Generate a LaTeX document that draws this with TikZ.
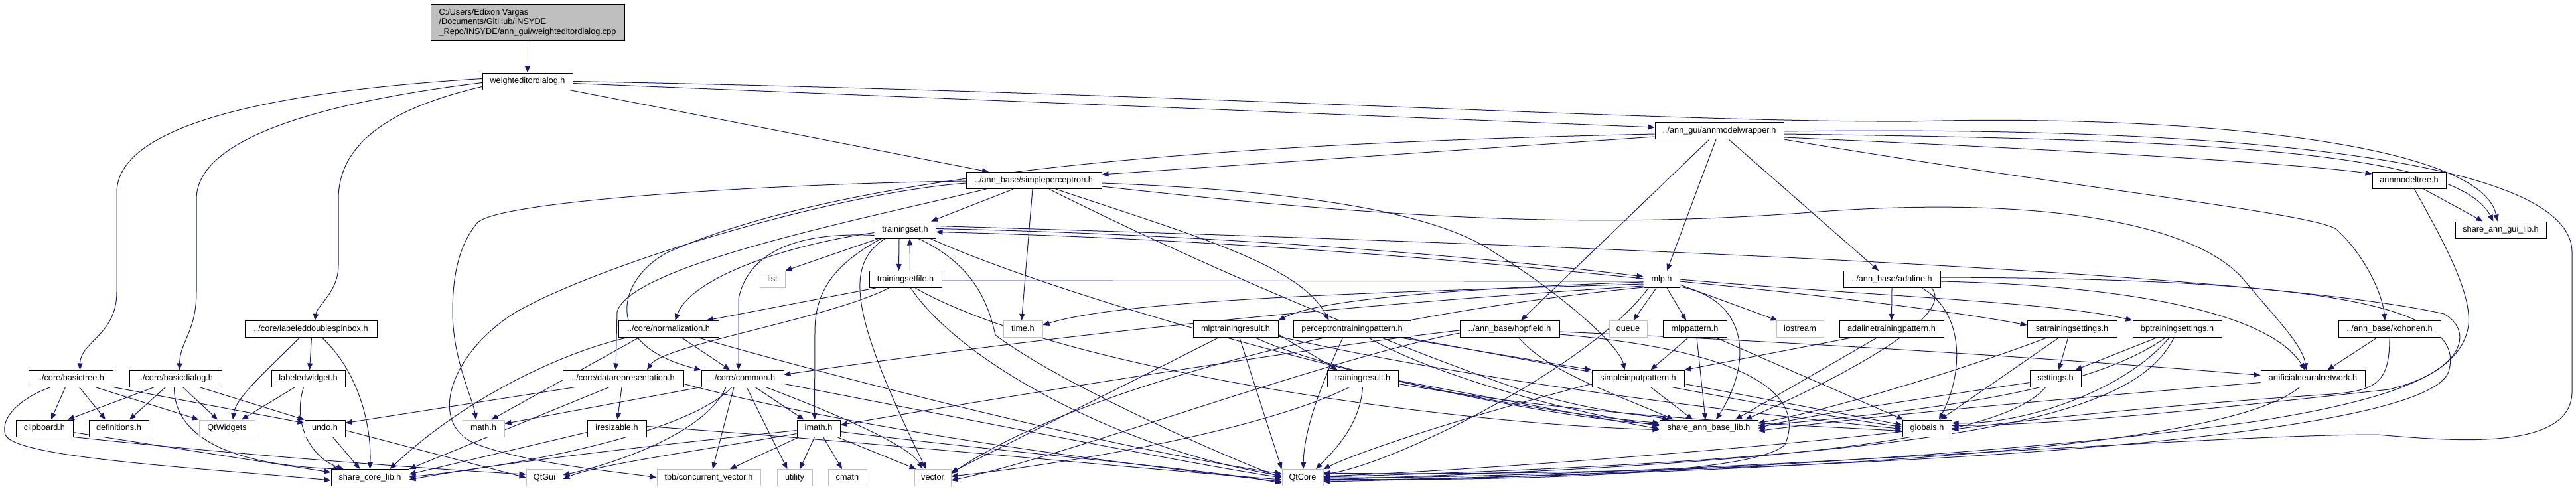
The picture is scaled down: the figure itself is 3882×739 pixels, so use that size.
\documentclass[tikz,border=0pt]{standalone}
\usepackage{fontspec}
\setmainfont{Liberation Sans}
\usetikzlibrary{arrows.meta}
\definecolor{edgeblue}{HTML}{191970}
\definecolor{sysgray}{HTML}{BFBFBF}
\pgfdeclarelayer{bg}
\pgfsetlayers{bg,main}
\begin{document}
\begin{tikzpicture}[x=1pt,y=-1pt, font=\fontsize{12.7}{14.5}\selectfont,
  box/.style={draw=black, line width=1pt, fill=white, inner sep=0pt, minimum height=25pt, text height=9.3pt, text depth=2.7pt},
  sys/.style={box, draw=sysgray},
  rootbox/.style={draw=black, line width=1pt, fill=sysgray, inner sep=0pt, minimum width=292pt, minimum height=55pt, align=left},
  dep/.style={draw=edgeblue, line width=1pt, -{Triangle[length=10pt,width=8pt]}},
  plain/.style={draw=edgeblue, line width=1pt}]
\useasboundingbox (0,0) rectangle (3882,739);

% nodes
\node[rootbox] (root) at (795,33.5) {C:/Users/Edixon Vargas\\/Documents/GitHub/INSYDE\\\_Repo/INSYDE/ann\_gui/weighteditordialog.cpp};
\node[box, minimum width=136] (wed) at (795,122.5) {weighteditordialog.h};
\node[box, minimum width=194] (amw) at (2591,197) {../ann\_gui/annmodelwrapper.h};
\node[box, minimum width=204] (sp) at (1558,272) {../ann\_base/simpleperceptron.h};
\node[box, minimum width=111] (amt) at (3630.5,272) {annmodeltree.h};
\node[box, minimum width=92] (ts) at (1364,346.5) {trainingset.h};
\node[box, minimum width=137] (sagl) at (3768.5,346.5) {share\_ann\_gui\_lib.h};
\node[sys, minimum width=38] (list) at (1164,421) {list};
\node[box, minimum width=109] (tsf) at (1364.5,421) {trainingsetfile.h};
\node[box, minimum width=54] (mlp) at (2504,421) {mlp.h};
\node[box, minimum width=146] (ada) at (2851,421) {../ann\_base/adaline.h};
\node[box, minimum width=199] (ldsb) at (468.5,496) {../core/labeleddoublespinbox.h};
\node[box, minimum width=151] (norm) at (1007.5,496) {../core/normalization.h};
\node[sys, minimum width=59] (time) at (1541.5,496) {time.h};
\node[box, minimum width=128] (mtr) at (1862,496) {mlptrainingresult.h};
\node[box, minimum width=177] (ptp) at (2037.5,496) {perceptrontrainingpattern.h};
\node[box, minimum width=150] (hop) at (2275,496) {../ann\_base/hopfield.h};
\node[sys, minimum width=57] (queue) at (2453.5,496) {queue};
\node[box, minimum width=96] (mlpp) at (2554,496) {mlppattern.h};
\node[sys, minimum width=71] (iostream) at (2712.5,496) {iostream};
\node[box, minimum width=157] (atp) at (2850.5,496) {adalinetrainingpattern.h};
\node[box, minimum width=135] (sats) at (3122.5,496) {satrainingsettings.h};
\node[box, minimum width=134] (bpts) at (3281,496) {bptrainingsettings.h};
\node[box, minimum width=154] (koh) at (3601,496) {../ann\_base/kohonen.h};
\node[box, minimum width=127] (bt) at (106.5,570.5) {../core/basictree.h};
\node[box, minimum width=139] (bd) at (264.5,570.5) {../core/basicdialog.h};
\node[box, minimum width=111] (lw) at (464.5,570.5) {labeledwidget.h};
\node[box, minimum width=182] (dr) at (939,570.5) {../core/datarepresentation.h};
\node[box, minimum width=124] (common) at (1119,570.5) {../core/common.h};
\node[box, minimum width=107] (tr) at (2053.5,570.5) {trainingresult.h};
\node[box, minimum width=139] (sip) at (2468.5,570.5) {simpleinputpattern.h};
\node[box, minimum width=77] (set) at (3097.5,570.5) {settings.h};
\node[box, minimum width=157] (ann) at (3485.5,570.5) {artificialneuralnetwork.h};
\node[box, minimum width=86] (clip) at (67,645.5) {clipboard.h};
\node[box, minimum width=90] (def) at (179,645.5) {definitions.h};
\node[sys, minimum width=84] (qtw) at (342,645.5) {QtWidgets};
\node[box, minimum width=61] (undo) at (489.5,645.5) {undo.h};
\node[sys, minimum width=63] (math) at (728.5,645.5) {math.h};
\node[box, minimum width=89] (ires) at (929.5,645.5) {iresizable.h};
\node[box, minimum width=65] (imath) at (1233.5,645.5) {imath.h};
\node[box, minimum width=148] (sabl) at (2575,645.5) {share\_ann\_base\_lib.h};
\node[box, minimum width=74] (glob) at (2904,645.5) {globals.h};
\node[box, minimum width=117] (scl) at (557.5,720) {share\_core\_lib.h};
\node[sys, minimum width=55] (qtgui) at (820.5,720) {QtGui};
\node[sys, minimum width=156] (tbb) at (1068,720) {tbb/concurrent\_vector.h};
\node[sys, minimum width=53] (utility) at (1197.5,720) {utility};
\node[sys, minimum width=58] (cmath) at (1277,720) {cmath};
\node[sys, minimum width=55] (vector) at (1405.5,720) {vector};
\node[sys, minimum width=62] (qtcore) at (1963,720) {QtCore};

\begin{pgfonlayer}{bg}
\fill[white] (0,0) rectangle (3882,739);
\draw[dep] (root) -- (wed);
% weighteditordialog.h
\draw[dep] ([yshift=4]wed.west) .. controls (450,135) and (176,180) .. (176,290) -- (176,440) .. controls (176,505) and (121,515) .. ([xshift=14]bt.north);
\draw[dep] ([yshift=-2]wed.west) .. controls (520,150) and (296,200) .. (296,300) -- (296,440) .. controls (296,500) and (271,515) .. ([xshift=6]bd.north);
\draw[dep] ([yshift=-8]wed.west) .. controls (600,160) and (510,210) .. (510,300) -- (510,400) .. controls (510,440) and (478,460) .. ([xshift=6]ldsb.north);
\draw[dep] ([xshift=63]wed.south) -- ([xshift=-68]sp.north);
\draw[dep] ([yshift=-3]wed.east) -- ([yshift=5]amw.west);
\draw[dep] (wed.east) .. controls (1800,140) and (2500,185) .. (2880,183) .. controls (3300,172) and (3740,215) .. ([xshift=-5]sagl.north);
% annmodelwrapper
\draw[dep] ([yshift=-9]amw.west) -- ([yshift=9]sp.east);
\draw[dep] ([yshift=-5]amw.west) .. controls (1900,215) and (1300,250) .. (1007,380) .. controls (930,420) and (905,520) .. (common.north west);
\draw[dep] ([xshift=-5]amw.south) -- ([xshift=8]mlp.north);
\draw[dep] ([xshift=-15]amw.south) -- ([xshift=17]hop.north);
\draw[dep] ([xshift=14]amw.south) -- ([xshift=-20]ada.north);
\draw[dep] (amw.south east) .. controls (3100,280) and (3480,320) .. (3520,345) .. controls (3560,380) and (3590,440) .. ([xshift=-7]koh.north);
\draw[dep] ([yshift=-10]amw.east) .. controls (3100,225) and (3450,245) .. ([yshift=10]amt.west);
\draw[dep] ([yshift=-5]amw.east) .. controls (3300,210) and (3700,225) .. ([xshift=-11]sagl.north);
\draw[dep] ([yshift=-1]amw.east) .. controls (3300,190) and (3876,230) .. (3876,380) -- (3876,590) .. controls (3876,680) and (3700,665) .. (3582,655) .. controls (3300,655) and (2500,722) .. (qtcore.east);
% annmodeltree
\draw[dep] ([xshift=22]amt.south) -- ([xshift=-27]sagl.north);
\draw[dep] ([xshift=8]amt.south) .. controls (3680,360) and (3725,440) .. (3720,490) .. controls (3710,560) and (3620,600) .. (3400,635) .. controls (3000,690) and (2400,720) .. ([yshift=-4]qtcore.east);
% simpleperceptron
\draw[dep] ([xshift=-31]sp.south) -- ([xshift=39]ts.north);
\draw[dep] ([yshift=-1]sp.west) .. controls (1200,276) and (760,300) .. (720,335) .. controls (690,370) and (682,420) .. (682,470) .. controls (682,540) and (712,600) .. ([xshift=-11]math.north);
\draw[dep] ([yshift=-4]sp.west) .. controls (1250,292) and (900,400) .. (778,470) .. controls (680,530) and (640,640) .. (720,670) .. controls (800,700) and (940,712) .. (tbb.west);
\draw[dep] ([xshift=-72]sp.south) .. controls (1300,330) and (950,400) .. (930,470) -- ([xshift=-11]dr.north);
\draw[dep] ([xshift=-2]sp.south) -- ([xshift=-2]time.north);
\draw[dep] ([xshift=33]sp.south) .. controls (1800,355) and (1960,400) .. ([xshift=-35]ptp.north);
\draw[dep] ([xshift=23]sp.south) .. controls (1850,420) and (2150,540) .. (2300,590) .. controls (2420,625) and (2480,625) .. ([xshift=-60]sabl.north);
\draw[dep] ([yshift=-4]sp.east) .. controls (1900,285) and (2150,310) .. (2251,380) .. controls (2350,440) and (2440,520) .. ([xshift=-20]sip.north);
\draw[dep] ([yshift=-9]sp.east) .. controls (2100,330) and (2400,345) .. (2729,320) .. controls (3050,295) and (3300,330) .. (3380,420) .. controls (3430,480) and (3470,520) .. ([xshift=-10]ann.north);
% trainingset
\draw[dep] ([xshift=-40]ts.south) -- (list.north east);
\draw[dep] ([xshift=-9]ts.south) -- ([xshift=-10]tsf.north);
\draw[dep] ([xshift=7]tsf.north) -- ([xshift=7]ts.south);
\draw[dep] ([yshift=-4]ts.west) .. controls (1180,370) and (1040,420) .. ([xshift=10]norm.north);
\draw[dep] ([yshift=-8]ts.west) .. controls (1220,350) and (1130,370) .. (1113,450) -- ([xshift=-6]common.north);
\draw[dep] ([xshift=-36]ts.south) .. controls (1255,400) and (1228,440) .. (1228,500) -- ([xshift=-6]imath.north);
\draw[dep] ([xshift=-30]ts.south) .. controls (1270,400) and (1285,480) .. ([xshift=-10]vector.north);
\draw[dep] ([xshift=20]ts.south) .. controls (1470,400) and (1490,460) .. (1500,505) .. controls (1600,580) and (1850,690) .. (qtcore.west);
\draw[dep] ([yshift=2]ts.east) .. controls (1900,355) and (2300,395) .. ([yshift=4]mlp.west);
\draw[dep] ([yshift=1]mlp.west) .. controls (2300,402) and (1900,362) .. ([yshift=-3]ts.east);
\draw[dep] ([yshift=6]ts.east) .. controls (2400,370) and (3400,410) .. (3683,473) .. controls (3730,500) and (3710,560) .. (3600,587) .. controls (3300,620) and (3100,640) .. ([yshift=4]glob.east);
\draw[dep] ([xshift=38]ts.south) .. controls (1600,450) and (2200,620) .. ([yshift=6]sabl.west);
% trainingsetfile
\draw[dep] ([xshift=-45]tsf.south) -- ([xshift=57]norm.north);
\draw[dep] ([xshift=-25]tsf.south) .. controls (1250,480) and (1000,520) .. ([xshift=36]dr.north);
\draw[dep] ([xshift=8]tsf.south) .. controls (1450,550) and (1700,680) .. ([yshift=3]qtcore.west);
\draw[dep] ([xshift=15]tsf.south) .. controls (1600,560) and (2200,640) .. ([yshift=-2]sabl.west);
\draw[plain] ([yshift=-2]tsf.east) -- ([yshift=-3]mlp.west);
% normalization
\draw[dep] ([xshift=20]norm.south) -- ([xshift=-19]common.north);
\draw[dep] ([xshift=-45]norm.south) -- ([xshift=12]math.north);
\draw[dep] ([xshift=-63]norm.south) .. controls (850,530) and (700,600) .. ([xshift=30]scl.north);
\draw[dep] ([xshift=45]norm.south) .. controls (1300,580) and (1700,680) .. ([yshift=6]qtcore.west);
% datarepresentation
\draw[dep] ([xshift=-72]dr.south) -- ([yshift=8]undo.east);
\draw[dep] ([xshift=-21]dr.south) -- (scl.north east);
\draw[dep] ([xshift=-2]dr.south) -- ([xshift=1]ires.north);
\draw[dep] ([yshift=-8]dr.east) .. controls (1300,650) and (1700,700) .. ([yshift=-6]qtcore.west);
% iresizable
\draw[dep] ([yshift=-6]ires.west) -- ([yshift=5]scl.east);
\draw[dep] ([yshift=3]ires.east) .. controls (1300,665) and (1700,705) .. ([yshift=-3]qtcore.west);
% common
\draw[dep] (common.south west) -- ([yshift=7]math.east);
\draw[dep] ([xshift=-16]common.south) .. controls (1040,650) and (800,700) .. ([yshift=1]scl.east);
\draw[dep] ([xshift=-25]common.south) .. controls (1060,660) and (900,705) .. ([yshift=4]qtgui.east);
\draw[dep] ([xshift=-13]common.south) -- ([xshift=6]tbb.north);
\draw[dep] ([xshift=6]common.south) -- ([xshift=-11]utility.north);
\draw[dep] ([xshift=19]common.south) -- ([xshift=-22]imath.north);
\draw[dep] ([xshift=35]common.south) .. controls (1250,620) and (1370,670) .. ([xshift=-15]vector.north);
\draw[dep] ([yshift=-8]common.east) .. controls (1500,640) and (1800,700) .. (qtcore.west);
% imath
\draw[dep] ([xshift=-29]imath.south) -- ([xshift=32]tbb.north);
\draw[dep] ([xshift=-6]imath.south) -- ([xshift=8]utility.north);
\draw[dep] ([xshift=7]imath.south) -- ([xshift=-8]cmath.north);
\draw[dep] ([xshift=28]imath.south) -- ([xshift=-25]vector.north);
\draw[dep] ([yshift=-3]imath.west) .. controls (1050,665) and (800,690) .. ([yshift=-3]scl.east);
\draw[dep] ([yshift=-8]imath.west) .. controls (1050,680) and (900,700) .. ([yshift=-2]qtgui.east);
\draw[dep] ([yshift=-5]imath.east) .. controls (1500,680) and (1800,705) .. ([yshift=-8]qtcore.west);
% mlp
\draw[dep] ([xshift=-8]mlp.south) -- ([xshift=8]queue.north);
\draw[dep] ([xshift=8]mlp.south) -- ([xshift=-13]mlpp.north);
\draw[dep] ([yshift=-8]mlp.east) -- ([xshift=2]iostream.north west);
\draw[dep] ([yshift=-11]mlp.east) .. controls (2630,450) and (2645,540) .. ([xshift=11]sabl.north);
\draw[dep] ([yshift=-3]mlp.east) .. controls (2750,445) and (2950,470) .. ([yshift=6]sats.west);
\draw[dep] (mlp.east) .. controls (2800,445) and (3100,455) .. (bpts.north west);
\draw[dep] ([yshift=-4]mlp.west) .. controls (2200,435) and (1990,450) .. (mtr.north east);
\draw[dep] ([yshift=-7]mlp.west) .. controls (2100,440) and (1700,450) .. ([yshift=6]time.east);
\draw[dep] ([yshift=-10]mlp.west) .. controls (2100,455) and (1700,490) .. ([yshift=6]common.east);
\draw[dep] ([xshift=-20]mlp.south) .. controls (2400,550) and (2100,700) .. ([yshift=5]qtcore.east);
\draw[dep] ([yshift=-12]mlp.west) .. controls (2000,480) and (1600,600) .. ([yshift=6]vector.east);
% hopfield
\draw[dep] ([xshift=14]hop.south) .. controls (2330,560) and (2450,600) .. ([xshift=-53]sabl.north);
\draw[dep] ([yshift=-4]hop.east) .. controls (2700,515) and (3100,540) .. ([yshift=5]ann.west);
\draw[dep] ([yshift=-8]hop.east) .. controls (2650,530) and (2720,600) .. (2690,670) .. controls (2640,720) and (2200,725) .. ([yshift=-2]qtcore.east);
\draw[dep] ([yshift=-6]hop.west) .. controls (2000,540) and (1600,690) .. ([yshift=-4]vector.east);
\draw[dep] ([yshift=-2]hop.west) .. controls (2000,520) and (1500,600) .. ([yshift=5]imath.east);
% simpleinputpattern
\draw[dep] ([xshift=19]sip.south) -- ([xshift=-24]sabl.north);
\draw[dep] ([yshift=-8]sip.west) .. controls (2200,630) and (2050,680) .. (qtcore.north east);
\draw[dep] ([yshift=-8]sip.east) -- ([yshift=5]glob.west);
% perceptrontrainingpattern
\draw[dep] ([xshift=73]ptp.south) -- (sip.north west);
\draw[dep] ([xshift=-14]ptp.south) .. controls (2000,560) and (1965,640) .. ([xshift=1]qtcore.north);
\draw[dep] ([xshift=25]ptp.south) .. controls (2150,560) and (2350,620) .. ([yshift=4]sabl.west);
\draw[dep] ([xshift=82]ptp.south) .. controls (2400,560) and (2700,620) .. ([yshift=2]glob.west);
% mlptrainingresult
\draw[dep] ([yshift=-8]mtr.east) -- ([xshift=-38]tr.north);
\draw[dep] ([xshift=-26]mtr.south) -- ([yshift=8]vector.east);
\draw[dep] ([xshift=6]mtr.south) -- (qtcore.north west);
\draw[dep] ([xshift=30]mtr.south) .. controls (2000,560) and (2300,620) .. ([yshift=8]sabl.west);
\draw[dep] ([yshift=-11]mtr.east) .. controls (2200,570) and (2600,620) .. ([yshift=-1]glob.west);
% trainingresult
\draw[dep] ([xshift=-20]tr.south) .. controls (1900,650) and (1600,700) .. ([yshift=2]vector.east);
\draw[dep] (tr.south) .. controls (2050,640) and (2010,680) .. ([xshift=20]qtcore.north);
\draw[dep] ([yshift=-3]tr.east) -- ([yshift=-1]sabl.west);
\draw[dep] ([yshift=-8]tr.east) .. controls (2400,630) and (2700,640) .. ([yshift=-4]glob.west);
% mlppattern
\draw[dep] ([xshift=-10]mlpp.south) -- ([xshift=19]sip.north);
\draw[dep] ([xshift=3]mlpp.south) -- ([xshift=-5]sabl.north);
\draw[dep] ([xshift=32]mlpp.south) -- ([xshift=2]glob.north west);
% adalinetrainingpattern
\draw[dep] ([xshift=-60]atp.south) -- (sip.north east);
\draw[dep] ([xshift=-22]atp.south) -- ([xshift=40]sabl.north);
% adaline
\draw[dep] (ada.south) -- (atp.north);
\draw[dep] ([xshift=60]ada.south) .. controls (2950,480) and (2750,580) .. ([xshift=55]sabl.north);
\draw[dep] ([xshift=45]ada.south) .. controls (2960,470) and (2960,560) .. ([xshift=18]glob.north);
\draw[dep] ([yshift=-3]ada.east) .. controls (3200,430) and (3420,470) .. ([xshift=-12]ann.north);
\draw[dep] ([yshift=3]ada.east) .. controls (3500,420) and (3720,460) .. (3690,560) .. controls (3650,680) and (2500,720) .. ([yshift=7]qtcore.east);
% satrainingsettings
\draw[dep] ([xshift=-6]sats.south) -- ([xshift=5]set.north);
\draw[dep] ([xshift=-38]sats.south) .. controls (2950,560) and (2750,620) .. ([yshift=8]sabl.east);
\draw[dep] ([xshift=-20]sats.south) -- ([xshift=20]glob.north);
% bptrainingsettings
\draw[dep] ([xshift=-31]bpts.south) -- ([xshift=30]set.north);
\draw[dep] ([xshift=-18]bpts.south) .. controls (3150,590) and (2900,620) .. ([yshift=4]sabl.east);
\draw[dep] ([xshift=-12]bpts.south) .. controls (3200,590) and (3050,640) .. ([yshift=8]glob.east);
\draw[dep] ([xshift=-5]bpts.south) .. controls (3220,620) and (3000,690) .. ([yshift=1]qtcore.east);
% settings
\draw[dep] ([yshift=-6]set.west) .. controls (2900,600) and (2700,630) .. (sabl.east);
\draw[dep] ([xshift=-15]set.south) .. controls (3020,660) and (2700,700) .. ([yshift=-3]qtcore.east);
% artificialneuralnetwork
\draw[dep] ([yshift=-6]ann.west) .. controls (3000,610) and (2800,630) .. ([yshift=-4]sabl.east);
\draw[dep] ([xshift=-20]ann.south) .. controls (3350,680) and (2700,710) .. ([yshift=-6]qtcore.east);
% kohonen
\draw[dep] ([xshift=-19]koh.south) -- ([xshift=22]ann.north);
\draw[dep] (koh.south) .. controls (3601,580) and (3580,590) .. (3500,595) .. controls (3200,615) and (3000,640) .. ([yshift=-2]glob.east);
% globals
\draw[dep] ([yshift=-5]glob.west) .. controls (2600,680) and (2200,710) .. ([yshift=2]qtcore.east);
% core group
\draw[dep] ([xshift=-30]bt.south) .. controls (30,600) and (0,630) .. (8,655) .. controls (20,690) and (300,705) .. ([yshift=-4]scl.west);
\draw[dep] ([xshift=-8]bt.south) -- ([xshift=10]clip.north);
\draw[dep] ([xshift=13]bt.south) -- ([xshift=-20]def.north);
\draw[dep] ([xshift=37]bt.south) -- (qtw.north west);
\draw[dep] (bt.south east) -- ([yshift=8]undo.west);
\draw[dep] ([xshift=-32]bd.south) -- ([xshift=35]clip.north);
\draw[dep] ([xshift=-15]bd.south) -- ([xshift=16]def.north);
\draw[dep] ([xshift=-2]bd.south) .. controls (262,650) and (330,700) .. ([xshift=-45]scl.north);
\draw[dep] ([xshift=11]bd.south) -- ([xshift=-14]qtw.north);
\draw[dep] ([xshift=36]bd.south) -- (undo.north west);
\draw[dep] ([xshift=-17]ldsb.south) .. controls (400,560) and (355,600) .. ([xshift=9]qtw.north);
\draw[dep] ([xshift=1]ldsb.south) -- ([xshift=2]lw.north);
\draw[dep] ([xshift=17]ldsb.south) .. controls (540,560) and (560,640) .. (scl.north);
\draw[dep] ([xshift=-20]lw.south) -- ([xshift=22]qtw.north);
\draw[dep] ([xshift=-7]lw.south) .. controls (440,640) and (470,690) .. ([xshift=-40]scl.north);
\draw[dep] ([yshift=-6]clip.east) -- ([yshift=8]scl.west);
\draw[dep] (clip.south east) .. controls (400,690) and (700,710) .. ([yshift=5]qtgui.west);
\draw[dep] ([xshift=12]undo.south) -- ([xshift=-15]scl.north);
\draw[dep] ([yshift=-3]undo.east) -- (qtgui.west);
\end{pgfonlayer}
\end{tikzpicture}
\end{document}
